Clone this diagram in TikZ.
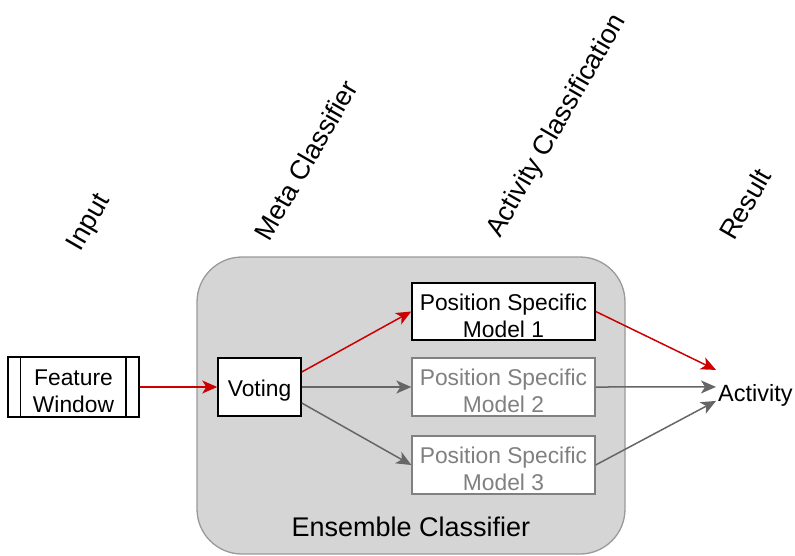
\documentclass[tikz,border=0pt]{standalone}
\usepackage{fontspec}
\setmainfont{Liberation Sans}
\usetikzlibrary{arrows.meta,calc}

\definecolor{hlred}{HTML}{CC0000}
\definecolor{linkgray}{HTML}{666666}
\definecolor{dimgray}{HTML}{808080}
\definecolor{panelfill}{HTML}{D5D5D5}
\definecolor{panelline}{HTML}{9A9A9A}

% tall strut on the first line so box text sits a little below centre
\newcommand{\topstrut}{\rule{0pt}{24.5pt}}

\begin{document}
\begin{tikzpicture}[x=1pt,y=-1pt,
  boxfont/.style={font=\fontsize{22.8}{27}\selectfont},
  headfont/.style={font=\fontsize{27}{31}\selectfont},
  block/.style={boxfont, align=center, draw=black, line width=1.5pt,
    fill=white, inner sep=0pt},
  dimblock/.style={block, draw=dimgray, text=dimgray, line width=1.3pt},
  header/.style={headfont, rotate=60, inner sep=0pt},
  link/.style={line width=1.5pt,
    -{Stealth[length=15pt,width=13pt,inset=4pt]}},
  hotlink/.style={link, draw=hlred, fill=hlred},
  coldlink/.style={link, draw=linkgray, fill=linkgray}]

\useasboundingbox (0,0) rectangle (795,555);

% column headers
\node[header] (hinput)  at (90,223)  {Input};
\node[header] (hmeta)   at (306,160) {Meta Classifier};
\node[header] (hact)    at (557,126) {Activity Classification};
\node[header] (hresult) at (745,204) {Result};

% ensemble container
\node[draw=panelline, fill=panelfill, line width=1.3pt,
  rounded corners=45pt, minimum width=428pt, minimum height=297pt,
  inner sep=0pt] (ens) at (411,405.5) {};
\node[headfont] (enslabel) at (411,527) {Ensemble Classifier};

% input window with side bars
\node[block, minimum width=131pt, minimum height=60pt] (fw) at (73.5,387)
  {\topstrut Feature\\Window};
\draw[line width=1.5pt] ($(fw.north west)+(13,0)$) -- ($(fw.south west)+(13,0)$);
\draw[line width=1.5pt] ($(fw.north east)+(-14,0)$) -- ($(fw.south east)+(-14,0)$);

% classifiers
\node[block, minimum width=83pt, minimum height=58pt] (vote) at (259.5,387)
  {\topstrut Voting};
\node[block, minimum width=183pt, minimum height=57pt] (m1) at (503.5,311.5)
  {\topstrut Position Specific\\Model 1};
\node[dimblock, minimum width=183pt, minimum height=58pt] (m2) at (503.5,387)
  {\topstrut Position Specific\\Model 2};
\node[dimblock, minimum width=183pt, minimum height=58pt] (m3) at (503.5,465)
  {\topstrut Position Specific\\Model 3};

% result
\node[font=\fontsize{23.5}{27}\selectfont, anchor=base west, inner sep=2pt]
  (act) at (716,401) {Activity};

% connectors
\draw[hotlink] (fw.east) -- (vote.west);
\draw[hotlink] ([yshift=15pt]vote.east) -- (m1.west);
\draw[coldlink] (vote.east) -- (m2.west);
\draw[coldlink] ([yshift=-16pt]vote.east) -- (m3.west);
\draw[hotlink] (m1.east) -- ([yshift=25pt]act.west);
\draw[coldlink] (m2.east) -- ([yshift=8pt]act.west);
\draw[coldlink] (m3.east) -- ([yshift=-6pt]act.west);

\end{tikzpicture}
\end{document}
